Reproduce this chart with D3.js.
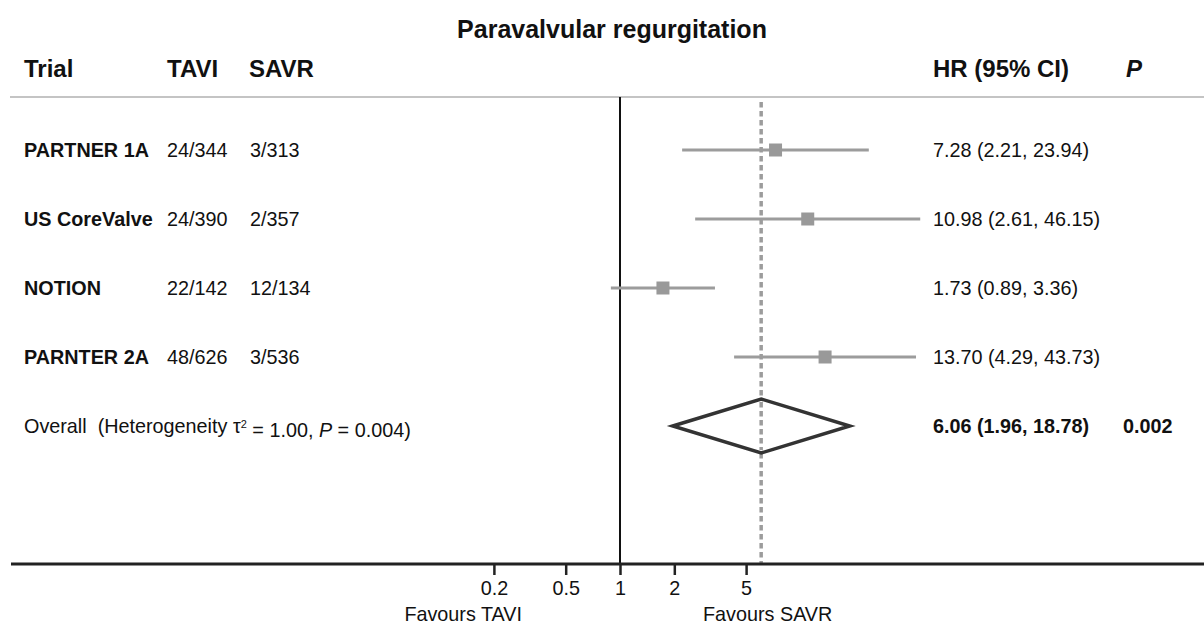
<!DOCTYPE html>
<html>
<head>
<meta charset="utf-8">
<script src="https://cdn.jsdelivr.net/npm/d3@7"></script>
<style>
  html, body { margin: 0; padding: 0; background: #fff; }
  svg { display: block; font-family: "Liberation Sans", Arial, Helvetica, sans-serif; }
  text { white-space: pre; fill: #111; }
</style>
</head>
<body>
<svg id="chart" width="1204" height="624"></svg>
<script>
// data
const trials = ["PARTNER 1A", "US CoreValve", "NOTION", "PARNTER 2A"];
const taviEvents = ["24/344", "24/390", "22/142", "48/626"];
const savrEvents = ["3/313", "2/357", "12/134", "3/536"];
const hr = [7.28, 10.98, 1.73, 13.70];
const hrLow = [2.21, 2.61, 0.89, 4.29];
const hrHigh = [23.94, 46.15, 3.36, 43.73];
const hrLabels = ["7.28 (2.21, 23.94)", "10.98 (2.61, 46.15)", "1.73 (0.89, 3.36)", "13.70 (4.29, 43.73)"];

const overallHr = [6.06, 1.96, 18.78]; // estimate, low, high
const overallLabel = "6.06 (1.96, 18.78)";
const overallP = "0.002";

const axisTicks = [0.2, 0.5, 1, 2, 5];

const svg = d3.select("#chart");

// log scale, 1 sits at x=620
const x = d3.scaleLog().domain([0.2, 5]).range([493.9, 746.1]);

const rowKeys = trials.concat(["Overall"]);
const y = d3.scalePoint().domain(rowKeys).range([150, 426]);

const axisY = 564;
const gray = "#9c9c9c";
const bodySize = "19.8px";

// title
svg.append("text")
  .attr("x", 612).attr("y", 38)
  .attr("text-anchor", "middle")
  .style("font-size", "25px").style("font-weight", "bold")
  .text("Paravalvular regurgitation");

// header
const header = svg.append("g").style("font-size", "24px").style("font-weight", "bold");
header.append("text").attr("x", 24).attr("y", 77).text("Trial");
header.append("text").attr("x", 167).attr("y", 77).text("TAVI");
header.append("text").attr("x", 249).attr("y", 77).text("SAVR");
header.append("text").attr("x", 933).attr("y", 77).text("HR (95% CI)");
header.append("text").attr("x", 1126).attr("y", 77).style("font-style", "italic").text("P");

svg.append("line")
  .attr("x1", 10).attr("x2", 1204).attr("y1", 97).attr("y2", 97)
  .attr("stroke", "#c4c4c4").attr("stroke-width", 2);

// reference line at 1
svg.append("line")
  .attr("x1", x(1)).attr("x2", x(1)).attr("y1", 97).attr("y2", axisY)
  .attr("stroke", "#111").attr("stroke-width", 2);

// dashed line at overall estimate
svg.append("line")
  .attr("x1", x(overallHr[0])).attr("x2", x(overallHr[0]))
  .attr("y1", 102).attr("y2", axisY)
  .attr("stroke", gray).attr("stroke-width", 3.5)
  .attr("stroke-dasharray", "5.5,3.5");

// trial rows
const rows = svg.selectAll("g.row")
  .data(trials)
  .enter()
  .append("g")
  .attr("class", "row");

rows.append("text")
  .attr("x", 24).attr("y", d => y(d)).attr("dy", "0.35em")
  .style("font-size", bodySize).style("font-weight", "bold")
  .text(d => d);

rows.append("text")
  .attr("x", 167).attr("y", d => y(d)).attr("dy", "0.35em")
  .style("font-size", bodySize)
  .text((d, i) => taviEvents[i]);

rows.append("text")
  .attr("x", 250).attr("y", d => y(d)).attr("dy", "0.35em")
  .style("font-size", bodySize)
  .text((d, i) => savrEvents[i]);

rows.append("line")
  .attr("x1", (d, i) => x(hrLow[i])).attr("x2", (d, i) => x(hrHigh[i]))
  .attr("y1", d => y(d)).attr("y2", d => y(d))
  .attr("stroke", gray).attr("stroke-width", 3);

rows.append("rect")
  .attr("x", (d, i) => x(hr[i]) - 6.5).attr("y", d => y(d) - 6.5)
  .attr("width", 13).attr("height", 13)
  .attr("fill", "#999");

rows.append("text")
  .attr("x", 933).attr("y", d => y(d)).attr("dy", "0.35em")
  .style("font-size", bodySize)
  .text((d, i) => hrLabels[i]);

// overall row
const oy = y("Overall");
const ot = svg.append("text")
  .attr("x", 24).attr("y", oy).attr("dy", "0.35em")
  .style("font-size", bodySize);
ot.append("tspan").text("Overall  (Heterogeneity ");
ot.append("tspan").text("\u03c4");
ot.append("tspan").attr("dy", "-0.45em").style("font-size", "11px").text("2");
ot.append("tspan").attr("dy", "0.45em").text(" = 1.00, ");
ot.append("tspan").style("font-style", "italic").text("P");
ot.append("tspan").text(" = 0.004)");

const dh = 27;
svg.append("path")
  .attr("d", d3.line()([
    [x(overallHr[1]), oy],
    [x(overallHr[0]), oy - dh],
    [x(overallHr[2]), oy],
    [x(overallHr[0]), oy + dh]
  ]) + "Z")
  .attr("fill", "#fff")
  .attr("stroke", "#333").attr("stroke-width", 3.5)
  .attr("stroke-linejoin", "miter");

// redraw dashed line segment over the diamond fill
svg.append("line")
  .attr("x1", x(overallHr[0])).attr("x2", x(overallHr[0]))
  .attr("y1", oy - dh + 3).attr("y2", oy + dh - 3)
  .attr("stroke", gray).attr("stroke-width", 3.5)
  .attr("stroke-dasharray", "5.5,3.5");

svg.append("text")
  .attr("x", 933).attr("y", oy).attr("dy", "0.35em")
  .style("font-size", bodySize).style("font-weight", "bold")
  .text(overallLabel);
svg.append("text")
  .attr("x", 1123).attr("y", oy).attr("dy", "0.35em")
  .style("font-size", bodySize).style("font-weight", "bold")
  .text(overallP);

// x axis
svg.append("line")
  .attr("x1", 11).attr("x2", 1204).attr("y1", axisY).attr("y2", axisY)
  .attr("stroke", "#222").attr("stroke-width", 2.8);

const axis = d3.axisBottom(x)
  .tickValues(axisTicks)
  .tickFormat(d3.format("~g"))
  .tickSize(11)
  .tickPadding(6);

const ax = svg.append("g")
  .attr("transform", `translate(0,${axisY})`)
  .call(axis);
ax.select(".domain").remove();
ax.selectAll(".tick line").attr("stroke", "#222").attr("stroke-width", 2.5);
ax.selectAll(".tick text")
  .attr("fill", "#111")
  .style("font-size", bodySize)
  .style("font-family", "\"Liberation Sans\", Arial, sans-serif");

svg.append("text")
  .attr("x", 522).attr("y", 621).attr("text-anchor", "end")
  .style("font-size", bodySize)
  .text("Favours TAVI");
svg.append("text")
  .attr("x", 703).attr("y", 621)
  .style("font-size", bodySize)
  .text("Favours SAVR");
</script>
</body>
</html>
